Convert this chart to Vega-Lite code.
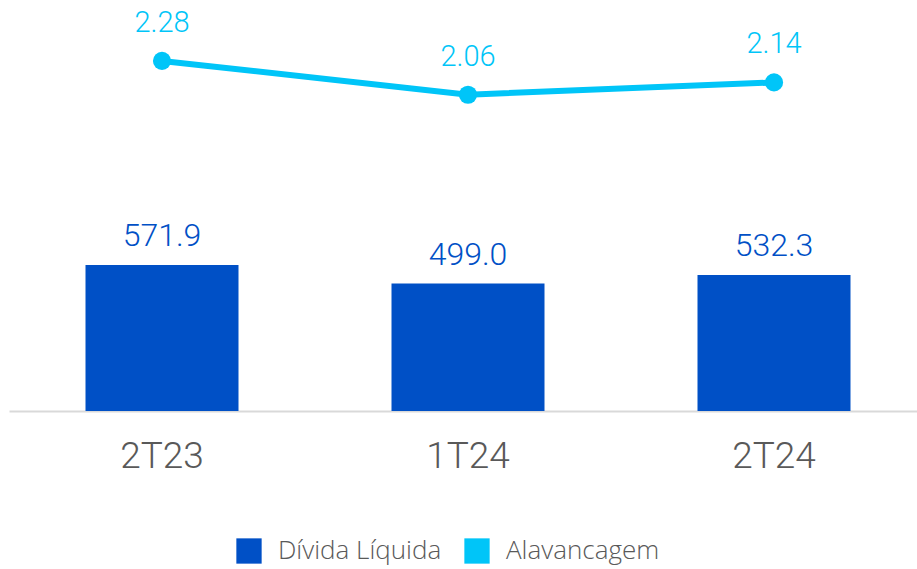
{
  "$schema": "https://vega.github.io/schema/vega-lite/v6.json",
  "width": 908,
  "height": 411,
  "autosize": {"type": "none"},
  "padding": {"left": 9, "top": 0, "right": 0, "bottom": 158},
  "background": "white",
  "config": {"view": {"stroke": null}, "font": "Roboto"},
  "data": {
    "values": [
      {"periodo": "2T23", "divida": 571.9, "alav": 2.28},
      {"periodo": "1T24", "divida": 499.0, "alav": 2.06},
      {"periodo": "2T24", "divida": 532.3, "alav": 2.14}
    ]
  },
  "encoding": {
    "x": {
      "field": "periodo",
      "type": "nominal",
      "sort": null,
      "scale": {"range": [0, 918], "paddingInner": 0.5, "paddingOuter": 0.25},
      "axis": {
        "title": null,
        "ticks": false,
        "grid": false,
        "domainColor": "#d9d9d9",
        "domainWidth": 2,
        "labelAngle": 0,
        "labelFont": "Roboto",
        "labelFontWeight": 300,
        "labelFontSize": 37,
        "labelColor": "#595959",
        "labelPadding": 27
      }
    }
  },
  "layer": [
    {
      "layer": [
        {
          "mark": {"type": "bar"},
          "encoding": {
            "y": {"field": "divida", "type": "quantitative", "scale": {"domain": [0, 1610]}, "axis": null},
            "color": {
              "datum": "Dívida Líquida",
              "scale": {"domain": ["Dívida Líquida", "Alavancagem"], "range": ["#0050C6", "#00C5F8"]},
              "legend": {
                "title": null,
                "orient": "none",
                "direction": "horizontal",
                "legendX": 227,
                "legendY": 538,
                "symbolType": "square",
                "symbolSize": 640,
                "symbolStrokeWidth": 0,
                "labelFont": "Open Sans",
                "labelFontWeight": 300,
                "labelFontSize": 26,
                "labelColor": "#595959",
                "labelOffset": 16,
                "labelLimit": 400,
                "columnPadding": 22
              }
            }
          }
        },
        {
          "mark": {"type": "text", "baseline": "alphabetic", "dy": -19, "fontSize": 32, "fontWeight": 300, "color": "#0050C6"},
          "encoding": {
            "y": {"field": "divida", "type": "quantitative", "scale": {"domain": [0, 1610]}, "axis": null},
            "text": {"field": "divida", "type": "quantitative", "format": ".1f"}
          }
        }
      ]
    },
    {
      "layer": [
        {
          "mark": {"type": "line", "color": "#00C5F8", "strokeWidth": 6},
          "encoding": {
            "y": {"field": "alav", "type": "quantitative", "scale": {"domain": [0, 2.677]}, "axis": null}
          }
        },
        {
          "mark": {"type": "point", "filled": true, "opacity": 1, "color": "#00C5F8", "size": 330},
          "encoding": {
            "y": {"field": "alav", "type": "quantitative", "scale": {"domain": [0, 2.677]}, "axis": null}
          }
        },
        {
          "mark": {"type": "text", "baseline": "alphabetic", "dy": -29, "fontSize": 29, "fontWeight": 300, "color": "#00C5F8"},
          "encoding": {
            "y": {"field": "alav", "type": "quantitative", "scale": {"domain": [0, 2.677]}, "axis": null},
            "text": {"field": "alav", "type": "quantitative", "format": ".2f"}
          }
        }
      ]
    }
  ],
  "resolve": {"scale": {"y": "independent"}}
}
